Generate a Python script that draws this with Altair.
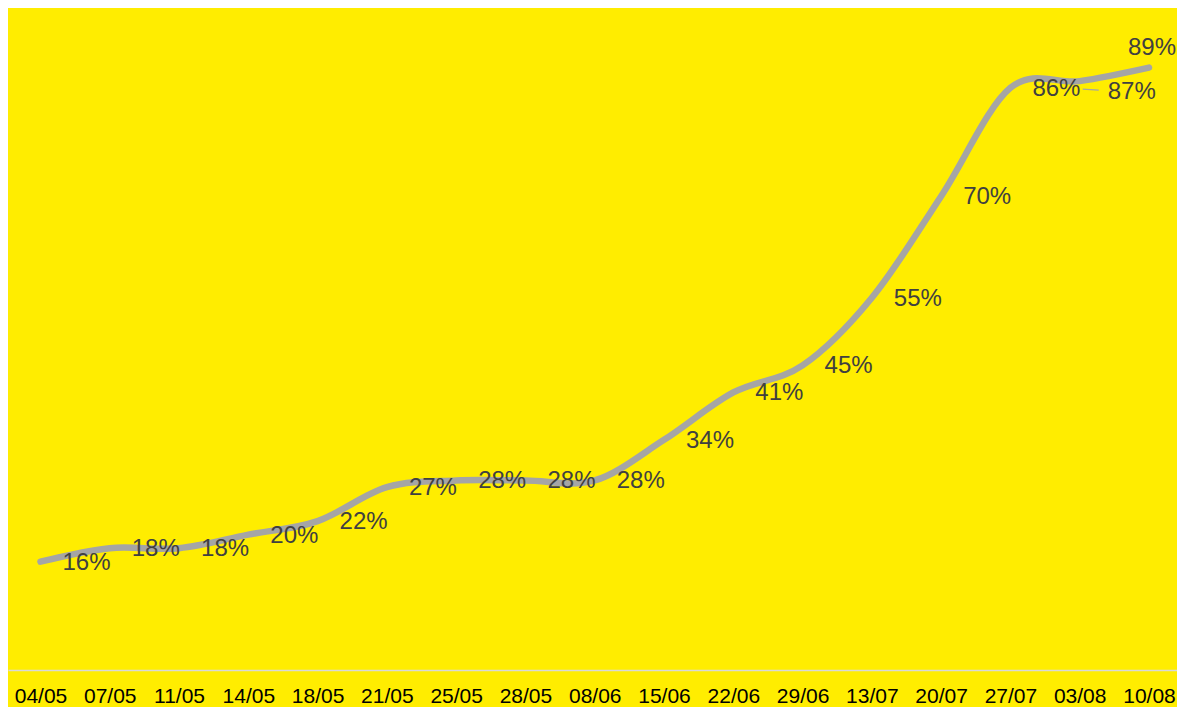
import altair as alt
import pandas as pd

dates = ["04/05", "07/05", "11/05", "14/05", "18/05", "21/05", "25/05", "28/05",
         "08/06", "15/06", "22/06", "29/06", "13/07", "20/07", "27/07", "03/08", "10/08"]
values = [0.16, 0.18, 0.18, 0.20, 0.22, 0.27, 0.28, 0.28,
          0.28, 0.34, 0.41, 0.45, 0.55, 0.70, 0.86, 0.87, 0.89]

df = pd.DataFrame({"date": dates, "v": values, "i": list(range(len(dates)))})

W, H = 1169, 662
FONT = "Liberation Sans"

x = alt.X(
    "date:O",
    sort=dates,
    scale=alt.Scale(type="point", padding=0.4366, align=0.537, round=False),
    axis=alt.Axis(
        title=None, labelAngle=0, ticks=False, grid=False,
        domainColor="#D9D9D9", domainWidth=1.5,
        labelFont=FONT, labelFontSize=21, labelColor="#000000",
        labelPadding=15,
    ),
)
y = alt.Y("v:Q", scale=alt.Scale(domain=[0, 0.978], nice=False, zero=True, round=False), axis=None)

base = alt.Chart(df).encode(x=x, y=y)

line = base.mark_line(color="#A5A5A5", strokeWidth=6.5, interpolate="cardinal", strokeCap="round")

txt_kw = dict(font=FONT, fontSize=24, color="#404040")

labels_main = base.transform_filter("datum.i <= 14").mark_text(
    align="left", baseline="middle", dx=22, dy=1, **txt_kw
).encode(text=alt.Text("v:Q", format=".0%"))

label_87 = base.transform_filter("datum.i == 15").mark_text(
    align="left", baseline="middle", dx=28, dy=11, **txt_kw
).encode(text=alt.Text("v:Q", format=".0%"))

label_89 = base.transform_filter("datum.i == 16").mark_text(
    align="center", baseline="middle", dx=3, dy=-20, **txt_kw
).encode(text=alt.Text("v:Q", format=".0%"))

leader = alt.Chart(df).transform_filter("datum.i == 15").mark_rule(
    color="#A5A5A5", strokeWidth=1.2, xOffset=3, yOffset=8, x2Offset=19, y2Offset=9
).encode(x=x, y=y, x2="date", y2="v")

chart = alt.layer(line, leader, labels_main, label_87, label_89).properties(
    width=W, height=H,
    autosize=alt.AutoSizeParams(type="none"),
    padding={"left": 0, "top": 0, "right": 0, "bottom": 38},
).configure(background="#FFED00").configure_view(stroke=None)

chart.save("out.html", embed_options={"renderer": "svg", "actions": False})
